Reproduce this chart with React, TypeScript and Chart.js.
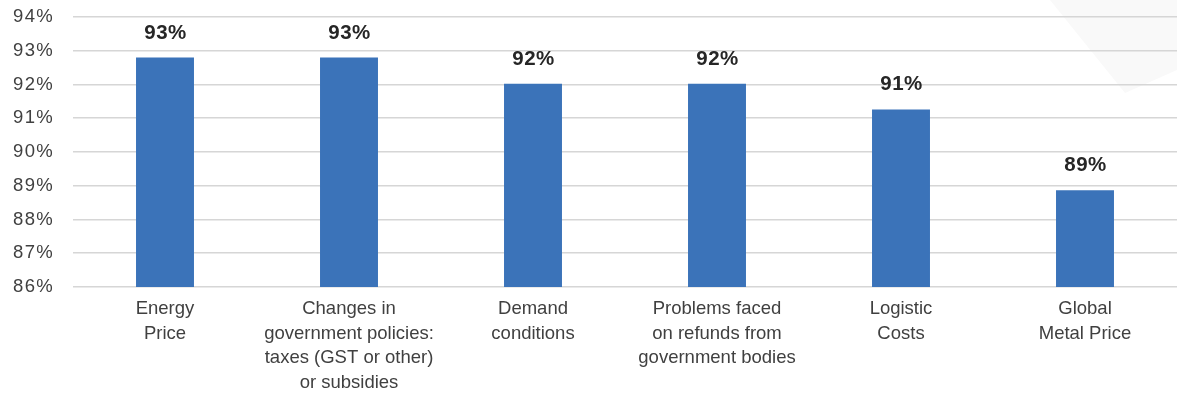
import React, { useEffect, useRef } from "react";
import { Chart, registerables } from "chart.js";

Chart.register(...registerables);

const categories: string[][] = [
  ["Energy", "Price"],
  ["Changes in", "government policies:", "taxes (GST or other)", "or subsidies"],
  ["Demand", "conditions"],
  ["Problems faced", "on refunds from", "government bodies"],
  ["Logistic", "Costs"],
  ["Global", "Metal Price"],
];
const values: number[] = [92.8, 92.8, 92.02, 92.02, 91.26, 88.87];
const valueLabels: string[] = ["93%", "93%", "92%", "92%", "91%", "89%"];
const yMin = 86;
const yMax = 94;

const FONT = "'Liberation Sans', Arial, Helvetica, sans-serif";

const bgDecor = {
  id: "bgDecor",
  beforeDraw(chart: any) {
    const ctx = chart.ctx;
    const w = chart.width;
    ctx.save();
    ctx.fillStyle = "#f9f9f9";
    ctx.beginPath();
    ctx.moveTo(w - 127, 0);
    ctx.lineTo(w, 0);
    ctx.lineTo(w, 70);
    ctx.lineTo(w - 52, 93);
    ctx.closePath();
    ctx.fill();
    ctx.restore();
  },
};

const ySpacing = {
  id: "ySpacing",
  afterLayout(chart: any) {
    const scale = chart.scales.y;
    if (!scale || scale.__patched) return;
    const orig = scale.drawLabels;
    scale.drawLabels = function (area: any) {
      const ctx = this.ctx;
      ctx.save();
      (ctx as any).letterSpacing = "1.3px";
      orig.call(this, area);
      ctx.restore();
    };
    scale.__patched = true;
  },
};

const valueLabelPlugin = {
  id: "valueLabels",
  afterDatasetsDraw(chart: any) {
    const ctx = chart.ctx;
    const meta = chart.getDatasetMeta(0);
    ctx.save();
    ctx.font = `bold 20.5px ${FONT}`;
    (ctx as any).letterSpacing = "0.5px";
    ctx.fillStyle = "#262626";
    ctx.textAlign = "center";
    ctx.textBaseline = "alphabetic";
    meta.data.forEach((bar: any, i: number) => {
      ctx.fillText(valueLabels[i], bar.x + 0.5, bar.y - 19);
    });
    ctx.restore();
  },
};

export default function App() {
  const ref = useRef<HTMLCanvasElement>(null);
  useEffect(() => {
    document.body.style.margin = "0";
    const chart = new Chart(ref.current as HTMLCanvasElement, {
      type: "bar",
      data: {
        labels: categories,
        datasets: [
          {
            data: values,
            backgroundColor: "#3B73B9",
            barPercentage: 0.315,
            categoryPercentage: 1,
          },
        ],
      },
      options: {
        animation: false,
        responsive: false,
        maintainAspectRatio: false,
        layout: { padding: { top: 17, right: 0, bottom: 0, left: 0 } },
        plugins: { legend: { display: false }, tooltip: { enabled: false } },
        scales: {
          x: {
            grid: { display: false, drawTicks: false },
            border: { display: false },
            ticks: {
              color: "#404040",
              font: { family: FONT, size: 18.5, lineHeight: 1.32 },
              padding: 10,
              maxRotation: 0,
              autoSkip: false,
            },
            afterFit(scale: any) {
              scale.height = 110;
              scale.paddingLeft = 0;
              scale.paddingRight = 0;
            },
          },
          y: {
            min: yMin,
            max: yMax,
            grid: { color: "#d6d6d6", lineWidth: 1.6, drawTicks: false },
            border: { display: false },
            ticks: {
              stepSize: 1,
              color: "#404040",
              padding: 19,
              font: { family: FONT, size: 18.5 },
              callback: (v: any) => `${v}%`,
            },
            afterFit(scale: any) {
              scale.width = 73;
              scale.paddingTop = 0;
              scale.paddingBottom = 0;
            },
          },
        },
      },
      plugins: [bgDecor, ySpacing, valueLabelPlugin],
    });
    return () => chart.destroy();
  }, []);
  return <canvas ref={ref} width={1177} height={397} style={{ display: "block" }} />;
}
